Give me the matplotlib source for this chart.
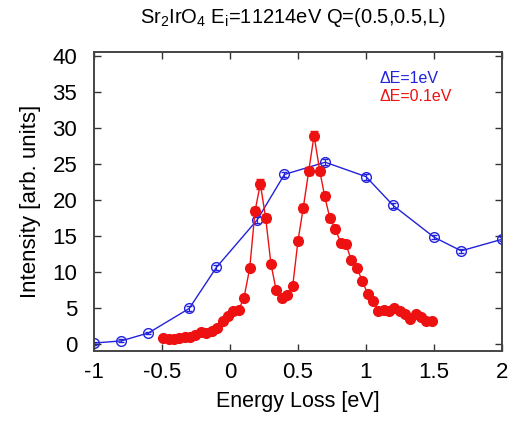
import matplotlib
matplotlib.use("Agg")
import matplotlib.pyplot as plt

plt.rcParams['font.family'] = ['Liberation Sans', 'DejaVu Sans']
plt.rcParams['mathtext.fontset'] = 'custom'
plt.rcParams['mathtext.rm'] = 'Liberation Sans'
plt.rcParams['mathtext.it'] = 'Liberation Sans'

# Delta E = 1 eV
e_wide = [-1.0, -0.8, -0.6, -0.3, -0.1, 0.2, 0.4, 0.7, 1.0, 1.2, 1.5, 1.7, 2.0]
i_wide = [0.1, 0.4, 1.5, 4.9, 10.6, 17.2, 23.5, 25.2, 23.2, 19.2, 14.8, 12.9, 14.5]
err_wide = [0.2, 0.2, 0.2, 0.3, 0.3, 0.4, 0.4, 0.4, 0.4, 0.4, 0.3, 0.3, 0.3]

# Delta E = 0.1 eV
e_fine = [-0.490, -0.449, -0.412, -0.373, -0.333, -0.294, -0.255, -0.213, -0.174, -0.135,
          -0.096, -0.054, -0.015, 0.024, 0.064, 0.103, 0.145, 0.184, 0.223, 0.262,
          0.301, 0.340, 0.382, 0.421, 0.461, 0.500, 0.539, 0.579, 0.618, 0.660,
          0.696, 0.735, 0.774, 0.814, 0.853, 0.892, 0.934, 0.973, 1.013, 1.051,
          1.090, 1.130, 1.169, 1.208, 1.248, 1.287, 1.326, 1.365, 1.404, 1.443, 1.483]
i_fine = [0.8, 0.7, 0.7, 0.8, 0.9, 1.0, 1.2, 1.6, 1.5, 1.8,
          2.2, 3.2, 3.8, 4.5, 4.7, 6.4, 10.5, 18.4, 22.2, 17.5,
          11.1, 7.4, 6.3, 6.8, 8.0, 14.3, 18.9, 24.0, 28.9, 24.0,
          20.5, 17.4, 16.0, 14.0, 13.8, 11.6, 10.5, 8.7, 6.9, 6.0,
          4.6, 4.7, 4.5, 5.0, 4.5, 4.2, 3.4, 4.1, 3.7, 3.1, 3.1]
err_fine = [0.15, 0.15, 0.15, 0.15, 0.15, 0.15, 0.2, 0.2, 0.2, 0.2,
            0.25, 0.3, 0.3, 0.3, 0.3, 0.35, 0.45, 0.55, 0.65, 0.55,
            0.45, 0.4, 0.35, 0.35, 0.4, 0.5, 0.55, 0.6, 0.65, 0.6,
            0.55, 0.5, 0.45, 0.45, 0.45, 0.4, 0.4, 0.35, 0.35, 0.3,
            0.3, 0.3, 0.3, 0.3, 0.3, 0.3, 0.25, 0.25, 0.25, 0.25, 0.25]

xticks = [-1, -0.5, 0, 0.5, 1, 1.5, 2]
xticklabels = ['-1', '-0.5', '0', '0.5', '1', '1.5', '2']
yticks = [0, 5, 10, 15, 20, 25, 30, 35, 40]

fig = plt.figure(figsize=(5.09, 4.21), dpi=100)
ax = fig.add_axes([0.1847, 0.1663, 0.8015, 0.7102])

ax.errorbar(e_wide, i_wide, yerr=err_wide, color='#2222dd', lw=1.0, marker='o',
            ms=7, mfc='none', mec='#2222dd', mew=1.0, capsize=2.5, elinewidth=0.8)
ax.errorbar(e_fine, i_fine, yerr=err_fine, color='#ee1111', lw=1.0, marker='o',
            ms=7, mfc='#ee1111', mec='#ee1111', capsize=3, elinewidth=0.8)

ax.set_xlim(-1, 2)
ax.set_ylim(-1, 40.5)
ax.set_xticks(xticks)
ax.set_xticklabels(xticklabels)
ax.set_yticks(yticks)
ax.tick_params(direction='in', top=True, right=True, length=5, width=1.0,
               labelsize=16, color='#333333')
ax.tick_params(axis='y', pad=12)
ax.tick_params(axis='x', pad=8)
for s in ax.spines.values():
    s.set_linewidth(1.4)
    s.set_color('#444444')

ax.set_xlabel('Energy Loss [eV]', fontsize=15.5, labelpad=6)
ax.set_ylabel('Intensity [arb. units]', fontsize=16, labelpad=8)
fig.text(0.575, 0.958, r'Sr$_2$IrO$_4$ E$_\mathrm{i}$=11214eV Q=(0.5,0.5,L)',
         ha='center', va='center', fontsize=14.5)

ax.text(0.70, 0.912, '\u0394E=1eV', color='#2222dd', fontsize=11.5,
        transform=ax.transAxes, va='center')
ax.text(0.70, 0.850, '\u0394E=0.1eV', color='#ee1111', fontsize=11.5,
        transform=ax.transAxes, va='center')

fig.savefig('out.png', dpi=100)
